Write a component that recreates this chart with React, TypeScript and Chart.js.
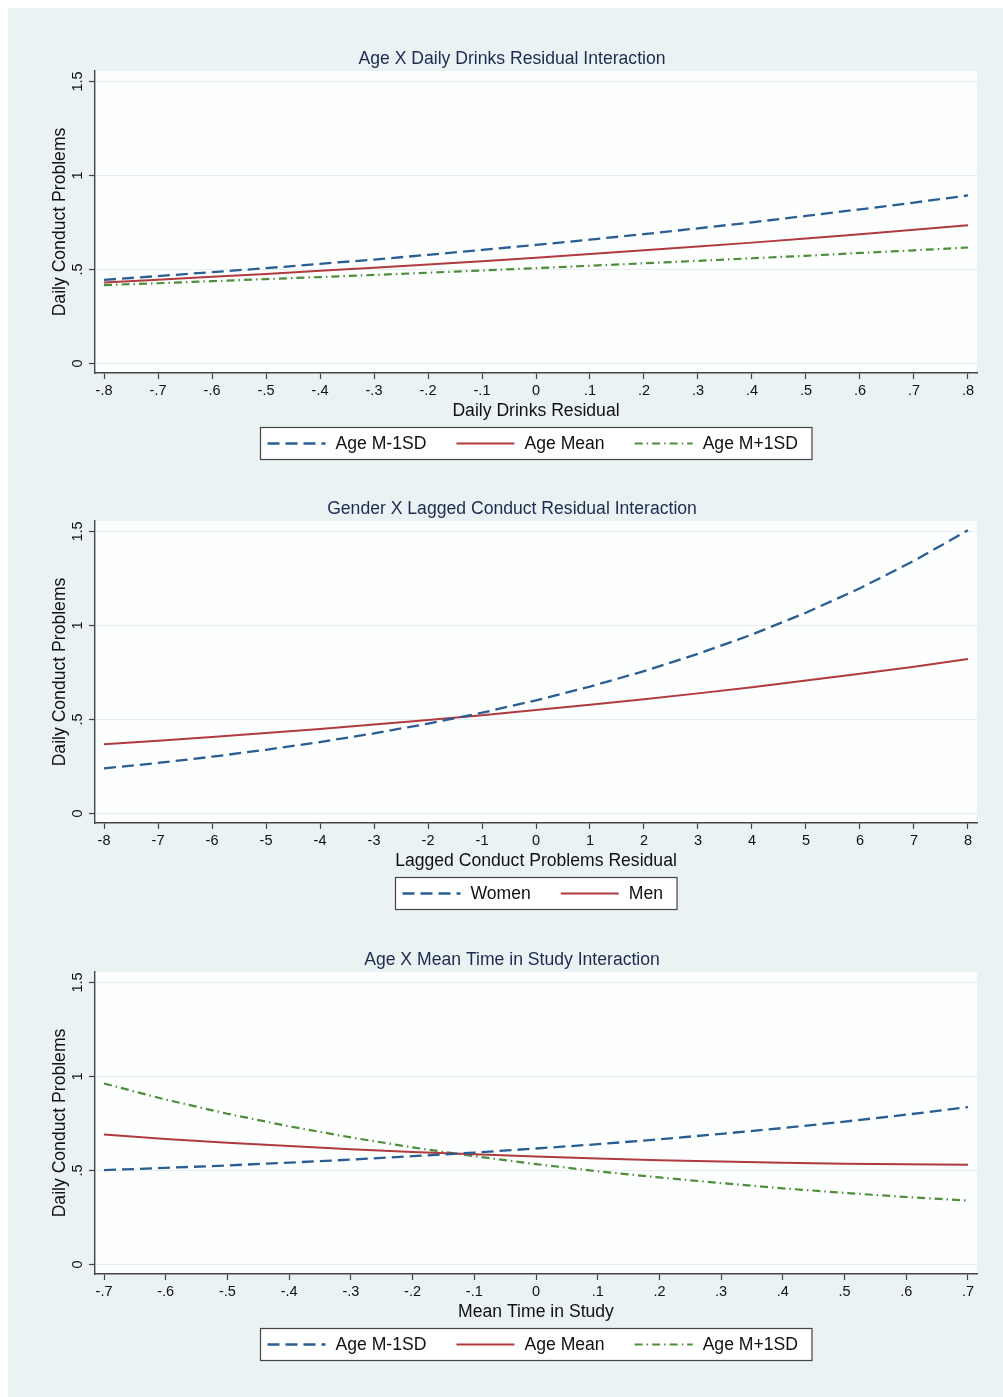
import React, { useEffect, useRef } from 'react';
import { Chart, registerables } from 'chart.js';

Chart.register(...registerables);

const FONT = '"Liberation Sans", Arial, Helvetica, sans-serif';
const BG = '#eaf2f3';
const BLUE = '#2a5e93';
const RED = '#b13a3f';
const GREEN = '#4e8e3b';
const AXIS = '#444444';
const TEXT = '#111111';
const TITLE = '#1d2b4e';

// ---------- shared y axis ----------
const yTicks = [0, 0.5, 1, 1.5];
const yTickLabels = ['0', '.5', '1', '1.5'];
const yTitle = 'Daily Conduct Problems';

// ---------- panel 1 ----------
const drinkX = [-0.8, -0.7, -0.6, -0.5, -0.4, -0.3, -0.2, -0.1, 0, 0.1, 0.2, 0.3, 0.4, 0.5, 0.6, 0.7, 0.8];
const drinkTickLabels = ['-.8', '-.7', '-.6', '-.5', '-.4', '-.3', '-.2', '-.1', '0', '.1', '.2', '.3', '.4', '.5', '.6', '.7', '.8'];
const drinkAgeLow = [0.445, 0.465, 0.486, 0.507, 0.530, 0.553, 0.578, 0.604, 0.631, 0.659, 0.688, 0.719, 0.751, 0.785, 0.820, 0.856, 0.894];
const drinkAgeMean = [0.431, 0.446, 0.461, 0.476, 0.493, 0.509, 0.526, 0.544, 0.563, 0.582, 0.602, 0.622, 0.643, 0.665, 0.687, 0.711, 0.735];
const drinkAgeHigh = [0.417, 0.427, 0.438, 0.449, 0.460, 0.471, 0.483, 0.495, 0.507, 0.520, 0.533, 0.546, 0.560, 0.573, 0.588, 0.602, 0.617];

// ---------- panel 2 ----------
const lagX = [-8, -7, -6, -5, -4, -3, -2, -1, 0, 1, 2, 3, 4, 5, 6, 7, 8];
const lagTickLabels = ['-8', '-7', '-6', '-5', '-4', '-3', '-2', '-1', '0', '1', '2', '3', '4', '5', '6', '7', '8'];
const lagWomen = [0.240, 0.269, 0.302, 0.339, 0.380, 0.426, 0.478, 0.536, 0.602, 0.675, 0.757, 0.849, 0.952, 1.068, 1.198, 1.344, 1.507];
const lagMen = [0.368, 0.387, 0.407, 0.428, 0.450, 0.473, 0.497, 0.523, 0.550, 0.578, 0.608, 0.639, 0.672, 0.707, 0.743, 0.781, 0.822];

// ---------- panel 3 ----------
const timeX = [-0.7, -0.6, -0.5, -0.4, -0.3, -0.2, -0.1, 0, 0.1, 0.2, 0.3, 0.4, 0.5, 0.6, 0.7];
const timeTickLabels = ['-.7', '-.6', '-.5', '-.4', '-.3', '-.2', '-.1', '0', '.1', '.2', '.3', '.4', '.5', '.6', '.7'];
const timeAgeLow = [0.502, 0.514, 0.527, 0.542, 0.558, 0.576, 0.595, 0.617, 0.640, 0.666, 0.695, 0.726, 0.760, 0.797, 0.837];
const timeAgeMean = [0.691, 0.668, 0.648, 0.630, 0.613, 0.599, 0.586, 0.574, 0.564, 0.555, 0.548, 0.541, 0.536, 0.533, 0.530];
const timeAgeHigh = [0.963, 0.877, 0.802, 0.735, 0.676, 0.623, 0.576, 0.534, 0.496, 0.463, 0.433, 0.405, 0.381, 0.359, 0.340];

type Series = { label: string; ys: number[]; color: string; dash: number[]; width: number };
type Panel = {
  title: string;
  xTitle: string;
  xs: number[];
  xTickLabels: string[];
  xMin: number;
  xMax: number;
  series: Series[];
};

const DASH_LONG = [12, 6];
const DASH_DOT = [8, 4, 1.5, 4];

const panels: Panel[] = [
  {
    title: 'Age X Daily Drinks Residual Interaction',
    xTitle: 'Daily Drinks Residual',
    xs: drinkX,
    xTickLabels: drinkTickLabels,
    xMin: -0.8167,
    xMax: 0.8167,
    series: [
      { label: 'Age M-1SD', ys: drinkAgeLow, color: BLUE, dash: DASH_LONG, width: 2.3 },
      { label: 'Age Mean', ys: drinkAgeMean, color: RED, dash: [], width: 2 },
      { label: 'Age M+1SD', ys: drinkAgeHigh, color: GREEN, dash: DASH_DOT, width: 2.2 },
    ],
  },
  {
    title: 'Gender X Lagged Conduct Residual Interaction',
    xTitle: 'Lagged Conduct Problems Residual',
    xs: lagX,
    xTickLabels: lagTickLabels,
    xMin: -8.167,
    xMax: 8.167,
    series: [
      { label: 'Women', ys: lagWomen, color: BLUE, dash: DASH_LONG, width: 2.3 },
      { label: 'Men', ys: lagMen, color: RED, dash: [], width: 2 },
    ],
  },
  {
    title: 'Age X Mean Time in Study Interaction',
    xTitle: 'Mean Time in Study',
    xs: timeX,
    xTickLabels: timeTickLabels,
    xMin: -0.7146,
    xMax: 0.7146,
    series: [
      { label: 'Age M-1SD', ys: timeAgeLow, color: BLUE, dash: DASH_LONG, width: 2.3 },
      { label: 'Age Mean', ys: timeAgeMean, color: RED, dash: [], width: 2 },
      { label: 'Age M+1SD', ys: timeAgeHigh, color: GREEN, dash: DASH_DOT, width: 2.2 },
    ],
  },
];

const PANEL_TOPS = [0, 450, 901];
const CANVAS_W = 995;
const CANVAS_H = 455;

const plotBg = {
  id: 'plotBg',
  beforeDraw(chart: any) {
    const { ctx, chartArea: a } = chart;
    ctx.save();
    ctx.fillStyle = '#fdfefe';
    ctx.fillRect(a.left, a.top, a.right - a.left, a.bottom - a.top);
    ctx.restore();
  },
};

const boxLegend = {
  id: 'boxLegend',
  afterDraw(chart: any) {
    const { ctx, chartArea } = chart;
    const ds = chart.data.datasets;
    const sampleW = 58;
    const gapText = 10;
    const gapItem = 30;
    const padL = 7;
    const padR = 14;
    ctx.save();
    ctx.font = `17.6px ${FONT}`;
    const widths = ds.map((d: any) => ctx.measureText(d.label).width);
    const total =
      padL + padR + ds.length * (sampleW + gapText) + widths.reduce((a: number, b: number) => a + b, 0) + gapItem * (ds.length - 1);
    const cx = (chartArea.left + chartArea.right) / 2;
    const left = Math.round(cx - total / 2) + 0.5;
    const top = Math.round(chartArea.bottom + 54) + 0.5;
    const h = 32;
    ctx.fillStyle = '#ffffff';
    ctx.fillRect(left, top, total, h);
    ctx.strokeStyle = AXIS;
    ctx.lineWidth = 1.2;
    ctx.strokeRect(left, top, total, h);
    const cy = top + h / 2;
    let x = left + padL;
    ds.forEach((d: any, i: number) => {
      ctx.save();
      ctx.strokeStyle = d.borderColor;
      ctx.lineWidth = d.borderWidth;
      ctx.setLineDash(d.borderDash || []);
      ctx.beginPath();
      ctx.moveTo(x, cy);
      ctx.lineTo(x + sampleW, cy);
      ctx.stroke();
      ctx.restore();
      x += sampleW + gapText;
      ctx.fillStyle = TEXT;
      ctx.textAlign = 'left';
      ctx.textBaseline = 'middle';
      ctx.fillText(d.label, x, cy + 1);
      x += widths[i] + gapItem;
    });
    ctx.restore();
  },
};

function buildConfig(p: Panel): any {
  return {
    type: 'line',
    data: {
      datasets: p.series.map((s) => ({
        label: s.label,
        data: p.xs.map((x, i) => ({ x, y: s.ys[i] })),
        borderColor: s.color,
        backgroundColor: s.color,
        borderDash: s.dash,
        borderWidth: s.width,
        pointRadius: 0,
        fill: false,
        tension: 0,
      })),
    },
    options: {
      animation: false,
      responsive: false,
      maintainAspectRatio: false,
      events: [],
      layout: { padding: { left: 39, right: 26, top: 0, bottom: 42.7 } },
      plugins: {
        legend: { display: false },
        tooltip: { enabled: false },
        title: {
          display: true,
          text: p.title,
          color: TITLE,
          font: { family: FONT, size: 17.6, weight: 'normal', lineHeight: 1.2 },
          padding: { top: 40.44, bottom: 1.44 },
        },
      },
      scales: {
        x: {
          type: 'linear',
          min: p.xMin,
          max: p.xMax,
          afterBuildTicks: (s: any) => {
            s.ticks = p.xs.map((v) => ({ value: v }));
          },
          ticks: {
            callback: (_v: any, i: number) => p.xTickLabels[i],
            font: { family: FONT, size: 14.5, lineHeight: 1 },
            color: TEXT,
            padding: 4.25,
            maxRotation: 0,
            minRotation: 0,
            autoSkip: false,
          },
          grid: {
            drawOnChartArea: false,
            drawTicks: true,
            tickLength: 6,
            tickColor: AXIS,
            tickWidth: 1.2,
          },
          border: { display: true, color: AXIS, width: 1.4 },
          title: {
            display: true,
            text: p.xTitle,
            color: TEXT,
            font: { family: FONT, size: 17.6, lineHeight: 1 },
            padding: { top: 0.7, bottom: 0 },
          },
        },
        y: {
          type: 'linear',
          min: -0.0505,
          max: 1.5559,
          afterBuildTicks: (s: any) => {
            s.ticks = yTicks.map((v) => ({ value: v }));
          },
          afterFit: (s: any) => {
            s.width = 48;
          },
          ticks: {
            callback: (_v: any, i: number) => yTickLabels[i],
            font: { family: FONT, size: 14.5, lineHeight: 1.2 },
            color: TEXT,
            padding: 0.6,
            minRotation: 90,
            maxRotation: 90,
            crossAlign: 'center',
            autoSkip: false,
          },
          grid: {
            color: '#e6eef0',
            lineWidth: 1,
            drawTicks: true,
            tickLength: 6,
            tickColor: AXIS,
            tickWidth: 1.2,
          },
          border: { display: true, color: AXIS, width: 1.4 },
          title: {
            display: true,
            text: yTitle,
            color: TEXT,
            font: { family: FONT, size: 17.6, lineHeight: 1 },
            padding: { top: 4.6, bottom: 0 },
          },
        },
      },
    },
    plugins: [plotBg, boxLegend],
  };
}

function PanelChart({ panel, top }: { panel: Panel; top: number }) {
  const ref = useRef<HTMLCanvasElement | null>(null);
  useEffect(() => {
    if (!ref.current) return;
    const chart = new Chart(ref.current, buildConfig(panel));
    return () => chart.destroy();
  }, [panel]);
  return (
    <canvas
      ref={ref}
      width={CANVAS_W}
      height={CANVAS_H}
      style={{ position: 'absolute', left: 0, top, width: CANVAS_W, height: CANVAS_H, display: 'block' }}
    />
  );
}

export default function App() {
  return (
    <div
      style={{
        position: 'absolute',
        left: 8,
        top: 8,
        width: 995,
        height: 1389,
        background: BG,
        overflow: 'hidden',
      }}
    >
      {panels.map((p, i) => (
        <PanelChart key={i} panel={p} top={PANEL_TOPS[i]} />
      ))}
    </div>
  );
}
